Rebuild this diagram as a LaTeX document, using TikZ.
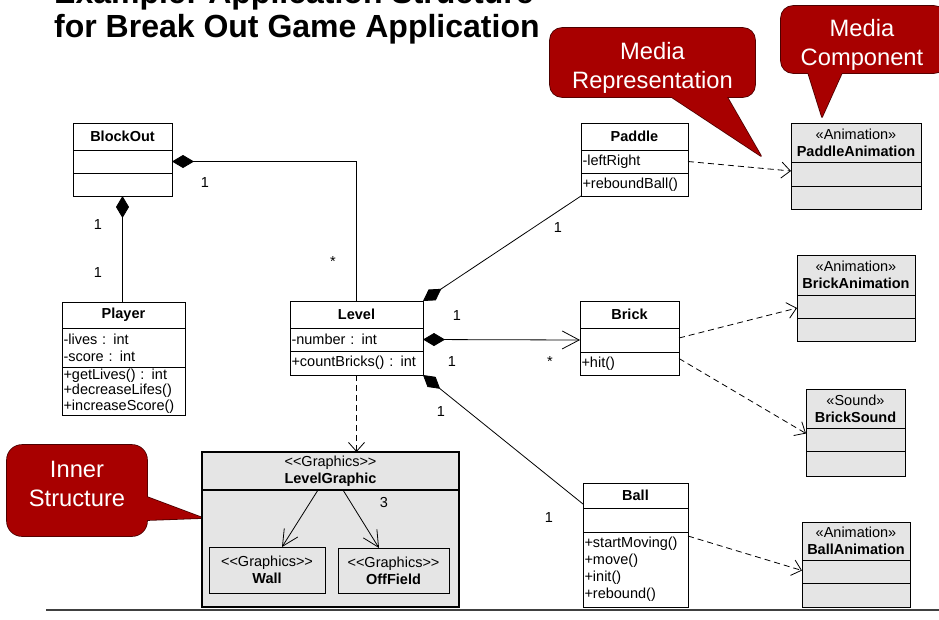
\documentclass[tikz,border=0pt]{standalone}
\usepackage{fontspec}
\setmainfont{Liberation Sans}
\usetikzlibrary{arrows.meta,positioning}
\definecolor{calloutred}{RGB}{168,0,0}
\definecolor{mediagray}{RGB}{229,229,229}
\newcommand{\umlfont}{\fontsize{14.5}{17}\selectfont}
\newcommand{\gfxstereo}{<\kern0pt<Graphics>\kern0pt>}

\begin{document}
\begin{tikzpicture}%
	[x=1pt, y=-1pt,
	umlpart/.style={draw=black, line width=0.9pt, fill=white, outer sep=0pt, inner xsep=1.5pt, inner ysep=0pt, font=\umlfont},
	classname/.style={umlpart, font=\umlfont\bfseries},
	mediahead/.style={umlpart, fill=mediagray, align=center},
	mediapart/.style={umlpart, fill=mediagray},
	memberlist/.style={umlpart, align=left, text width=#1},
	mult/.style={font=\umlfont, inner sep=0pt},
	assoc/.style={line width=0.8pt},
	compose/.style={assoc, {Diamond[length=22pt,width=13pt]}-},
	navigate/.style={assoc, {Diamond[length=22pt,width=13pt]}-{Straight Barb[length=17pt,width=18pt]}},
	depend/.style={assoc, dash pattern=on 6pt off 4pt, -{Straight Barb[length=9pt,width=16pt]}},
	innerlink/.style={assoc, -{Straight Barb[length=16pt,width=16pt]}},
	calloutline/.style={draw=calloutred!45!black, line width=1.6pt, line join=round},
	callouttext/.style={text=white, font=\fontsize{23.7}{28.5}\selectfont, align=center, inner sep=0pt},
	headline/.style={font=\fontsize{32}{34}\selectfont\bfseries, inner sep=0pt, anchor=base west},
	rule/.style={draw=black!75, line width=1.5pt}]
%
\useasboundingbox (0,0) rectangle (939,619);
\clip (0,0) rectangle (939,619);
%%
%% Title
%%
\node[headline] (headline1) at (54,3) {Example: Application Structure};
\node[headline] (headline2) at (54,37) {for Break Out Game Application};
%%
%% Callouts
%%
\draw[calloutline, rounded corners=12pt] (550,28) rectangle (755,97);
\draw[calloutline] (661,90) -- (761,156) -- (723,90) -- cycle;
\draw[calloutline, rounded corners=12pt] (781,6) rectangle (946,73);
\draw[calloutline] (806,66) -- (822,117) -- (845,66) -- cycle;
\draw[calloutline, rounded corners=15pt] (7,445) rectangle (147,536);
\draw[calloutline] (140,494.4) -- (203,518) -- (140,520.3) -- cycle;
\fill[calloutred, rounded corners=12pt] (550,28) rectangle (755,97);
\fill[calloutred] (661,90) -- (761,156) -- (723,90) -- cycle;
\fill[calloutred, rounded corners=12pt] (781,6) rectangle (946,73);
\fill[calloutred] (806,66) -- (822,117) -- (845,66) -- cycle;
\fill[calloutred, rounded corners=15pt] (7,445) rectangle (147,536);
\fill[calloutred] (140,494.4) -- (203,518) -- (140,520.3) -- cycle;
\node[callouttext] (mediarep) at (652.5,68) {Media\\Representation};
\node[callouttext] (mediacomp) at (862,45) {Media\\Component};
\node[callouttext] (innerstruct) at (77,484) {Inner\\Structure};
%%
%% Classes
%%
\node[classname, minimum width=99pt, minimum height=27pt, anchor=north west] (blockout) at (73,123) {BlockOut};
\node[umlpart, minimum width=99pt, minimum height=23pt, below=0pt of blockout] (blockout-attr) {};
\node[umlpart, minimum width=99pt, minimum height=23pt, below=0pt of blockout-attr] (blockout-ops) {};
%
\node[classname, minimum width=123pt, minimum height=26pt, anchor=north west] (player) at (62,302) {Player};
\node[memberlist=120pt, minimum height=39pt, below=0pt of player] (player-attr) {-lives : int\\-score : int};
\node[memberlist=120pt, minimum height=48pt, below=0pt of player-attr, font=\fontsize{14.5}{15.5}\selectfont] (player-ops) {+getLives() : int\\+decreaseLifes()\\+increaseScore()};
%
\node[classname, minimum width=133pt, minimum height=27pt, anchor=north west] (level) at (290,301) {Level};
\node[memberlist=130pt, minimum height=23pt, below=0pt of level] (level-attr) {-number : int};
\node[memberlist=130pt, minimum height=24pt, below=0pt of level-attr] (level-ops) {+countBricks() : int};
%
\node[classname, minimum width=107pt, minimum height=27pt, anchor=north west] (paddle) at (581,123) {Paddle};
\node[memberlist=104pt, minimum height=23pt, below=0pt of paddle] (paddle-attr) {-leftRight};
\node[memberlist=104pt, minimum height=23pt, below=0pt of paddle-attr] (paddle-ops) {+reboundBall()};
%
\node[classname, minimum width=99pt, minimum height=27pt, anchor=north west] (brick) at (580,301) {Brick};
\node[umlpart, minimum width=99pt, minimum height=24pt, below=0pt of brick] (brick-attr) {};
\node[memberlist=96pt, minimum height=23pt, below=0pt of brick-attr] (brick-ops) {+hit()};
%
\node[classname, minimum width=105pt, minimum height=25pt, anchor=north west] (ball) at (583,483) {Ball};
\node[umlpart, minimum width=105pt, minimum height=24pt, below=0pt of ball] (ball-attr) {};
\node[memberlist=102pt, minimum height=75pt, below=0pt of ball-attr] (ball-ops) {+startMoving()\\+move()\\+init()\\+rebound()};
%%
%% Media components
%%
\node[mediahead, minimum width=130pt, minimum height=39pt, anchor=north west] (paddleanim) at (791,123) {«Animation»\\\textbf{PaddleAnimation}};
\node[mediapart, minimum width=130pt, minimum height=24pt, below=0pt of paddleanim] (paddleanim-attr) {};
\node[mediapart, minimum width=130pt, minimum height=23pt, below=0pt of paddleanim-attr] (paddleanim-ops) {};
%
\node[mediahead, minimum width=118pt, minimum height=40pt, anchor=north west] (brickanim) at (797,255) {«Animation»\\\textbf{BrickAnimation}};
\node[mediapart, minimum width=118pt, minimum height=23pt, below=0pt of brickanim] (brickanim-attr) {};
\node[mediapart, minimum width=118pt, minimum height=23pt, below=0pt of brickanim-attr] (brickanim-ops) {};
%
\node[mediahead, minimum width=99pt, minimum height=39pt, anchor=north west] (bricksound) at (806,389) {«Sound»\\\textbf{BrickSound}};
\node[mediapart, minimum width=99pt, minimum height=23pt, below=0pt of bricksound] (bricksound-attr) {};
\node[mediapart, minimum width=99pt, minimum height=25pt, below=0pt of bricksound-attr] (bricksound-ops) {};
%
\node[mediahead, minimum width=108pt, minimum height=38pt, anchor=north west] (ballanim) at (802,522) {«Animation»\\\textbf{BallAnimation}};
\node[mediapart, minimum width=108pt, minimum height=23pt, below=0pt of ballanim] (ballanim-attr) {};
\node[mediapart, minimum width=108pt, minimum height=24pt, below=0pt of ballanim-attr] (ballanim-ops) {};
%%
%% Level graphic with inner structure
%%
\node[mediapart, line width=1.2pt, minimum width=257pt, minimum height=155pt, anchor=north west] (levelgraphic) at (202,452) {};
\node[mediahead, line width=1.2pt, minimum width=257pt, minimum height=38pt, anchor=north west] (lgheader) at (202,452) {\gfxstereo\\\textbf{LevelGraphic}};
\draw[line width=2pt] (lgheader.south west) -- (lgheader.south east);
\node[mediahead, minimum width=116pt, minimum height=46pt, anchor=north west] (wall) at (209,547) {\gfxstereo\\\textbf{Wall}};
\node[mediahead, minimum width=111pt, minimum height=45pt, anchor=north west] (offfield) at (338,548) {\gfxstereo\\\textbf{OffField}};
\draw[innerlink] ([xshift=-12.5pt]lgheader.south) -- ([xshift=15pt]wall.north);
\draw[innerlink] ([xshift=12.5pt]lgheader.south) -- ([xshift=-14.5pt]offfield.north);
\node[mult] (m-lg) at (384,502) {3};
%%
%% Associations
%%
\draw[compose] (blockout-ops.south) -- (blockout-ops.south |- player.north);
\draw[compose] (blockout-attr.east) -| (level.north);
\draw[compose] (level.north east) -- (paddle-ops.south west);
\draw[navigate] (level-attr.east) -- (brick-attr.west);
\draw[compose] (level-ops.south east) -- ([yshift=-21pt]ball.north west);
\draw[depend] (level-ops.south) -- (level-ops.south |- levelgraphic.north);
%%
%% Dependencies on media components
%%
\draw[depend] (paddle-attr.east) -- ([yshift=3pt]paddleanim-attr.west);
\draw[depend] ([yshift=2pt]brick-attr.east) -- ([yshift=-1.5pt]brickanim-attr.west);
\draw[depend] ([yshift=5pt]brick-ops.east) -- ([yshift=6pt]bricksound-attr.west);
\draw[depend] ([yshift=-4pt]ball-ops.north east) -- ([yshift=-10.5pt]ballanim.south west);
%%
%% Multiplicities
%%
\node[mult] (m-bo-pl1) at (98,225) {1};
\node[mult] (m-bo-pl2) at (98,273) {1};
\node[mult] (m-bo-lv1) at (205,183) {1};
\node[mult] (m-bo-lv2) at (333,262) {*};
\node[mult] (m-lv-pd) at (558,228) {1};
\node[mult] (m-lv-br1) at (457,316) {1};
\node[mult] (m-lv-br2) at (452,362) {1};
\node[mult] (m-lv-br3) at (550,362) {*};
\node[mult] (m-lv-bl1) at (441,412) {1};
\node[mult] (m-lv-bl2) at (549,518) {1};
%%
\draw[rule] (46,610) -- (939,610);
\end{tikzpicture}
\end{document}
